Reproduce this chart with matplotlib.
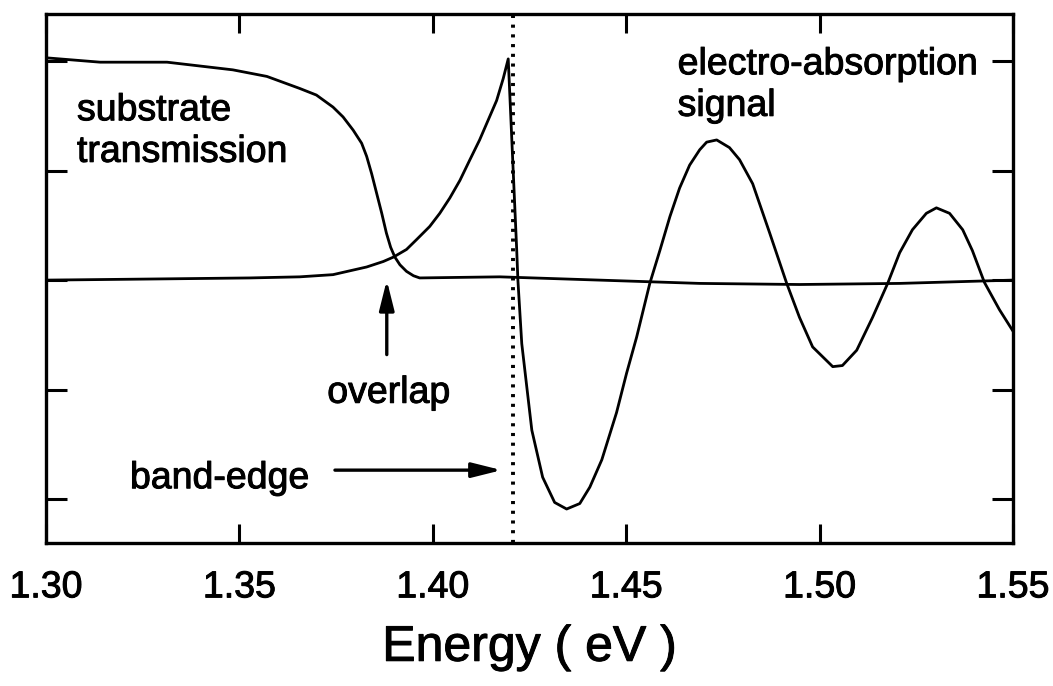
import numpy as np
import matplotlib
matplotlib.use("Agg")
import matplotlib.pyplot as plt
import matplotlib.patheffects as pe

plt.rcParams['font.family'] = ['Liberation Sans', 'DejaVu Sans']

# substrate transmission (arb. units)
sub_E = [1.3000, 1.3140, 1.3313, 1.3483, 1.3571, 1.3656, 1.3699, 1.3742,
         1.3768, 1.3794, 1.3816, 1.3829, 1.3842, 1.3855, 1.3868, 1.3880,
         1.3891, 1.3902, 1.3915, 1.3932, 1.3950, 1.3966, 1.4173, 1.4432,
         1.4690, 1.4948, 1.5207, 1.5499]
sub_T = [2.03, 1.99, 1.99, 1.92, 1.86, 1.75, 1.69, 1.58,
         1.49, 1.37, 1.25, 1.13, 0.97, 0.79, 0.61, 0.43,
         0.30, 0.21, 0.14, 0.08, 0.04, 0.02, 0.03, 0.00,
         -0.03, -0.04, -0.03, 0.00]

# electro-absorption signal (arb. units)
ea_E = [1.3000, 1.3269, 1.3527, 1.3656, 1.3742, 1.3829, 1.3872, 1.3898,
        1.3932, 1.3958, 1.3992, 1.4018, 1.4044, 1.4070, 1.4096, 1.4121,
        1.4143, 1.4165, 1.4182, 1.4195, 1.4217, 1.4220, 1.4230, 1.4256,
        1.4284, 1.4315, 1.4346, 1.4380, 1.4406, 1.4437, 1.4475, 1.4501,
        1.4527, 1.4561, 1.4587, 1.4613, 1.4638, 1.4664, 1.4690, 1.4708,
        1.4734, 1.4767, 1.4793, 1.4827, 1.4871, 1.4915, 1.4948, 1.4982,
        1.5034, 1.5059, 1.5096, 1.5137, 1.5176, 1.5207, 1.5240, 1.5276,
        1.5302, 1.5336, 1.5370, 1.5395, 1.5426, 1.5465, 1.5499]
ea_S = [0.00, 0.01, 0.02, 0.03, 0.05, 0.12, 0.17, 0.21,
        0.28, 0.37, 0.49, 0.61, 0.75, 0.91, 1.10, 1.28,
        1.46, 1.64, 1.84, 2.02, 0.27, 0.00, -0.58, -1.37,
        -1.80, -2.03, -2.09, -2.04, -1.89, -1.64, -1.21, -0.85,
        -0.52, -0.03, 0.27, 0.58, 0.84, 1.05, 1.19, 1.26,
        1.28, 1.21, 1.10, 0.88, 0.43, -0.03, -0.34, -0.61,
        -0.79, -0.78, -0.64, -0.34, -0.03, 0.25, 0.46, 0.61,
        0.66, 0.61, 0.46, 0.27, -0.02, -0.27, -0.46]

band_edge = 1.4207
x_ticks = [1.30, 1.35, 1.40, 1.45, 1.50, 1.55]
y_ticks = [-2, -1, 0, 1, 2]

heavy = [pe.withStroke(linewidth=0.7, foreground='black')]

fig = plt.figure(figsize=(10.53, 6.86), dpi=100)
ax = fig.add_axes([0.0437, 0.2085, 0.9183, 0.7711])

ax.plot(sub_E, sub_T, color='black', lw=2.0)
ax.plot(ea_E, ea_S, color='black', lw=2.0)
ax.axvline(band_edge, color='black', lw=2.8, linestyle=(0, (0.8, 1.7)))

ax.set_xlim(1.30, 1.55)
ax.set_ylim(-2.40, 2.43)
ax.set_xticks(x_ticks)
ax.set_xticklabels([f"{t:.2f}" for t in x_ticks])
ax.set_yticks(y_ticks)
ax.tick_params(axis='both', direction='in', top=True, right=True,
               length=14, width=2.2, labelsize=27, pad=19)
ax.tick_params(axis='y', labelleft=False, length=15)
for s in ax.spines.values():
    s.set_linewidth(2.4)
for lab in ax.get_xticklabels():
    lab.set_path_effects(heavy)

ax.set_xlabel('Energy ( eV )', fontsize=36, labelpad=14, path_effects=heavy)

fs = 27
ax.text(1.3080, 1.08, 'substrate\ntransmission', fontsize=fs,
        ha='left', va='baseline', path_effects=heavy)
ax.text(1.4633, 1.50, 'electro-absorption\nsignal', fontsize=fs,
        ha='left', va='baseline', path_effects=heavy)
ax.text(1.3886, -1.12, 'overlap', fontsize=fs, ha='center', va='baseline',
        path_effects=heavy)
ax.text(1.3217, -1.90, 'band-edge', fontsize=fs, ha='left', va='baseline',
        path_effects=heavy)

arrow = dict(arrowstyle='-|>,head_length=1.8,head_width=0.45',
             color='black', lw=2.4, mutation_scale=10,
             shrinkA=0, shrinkB=0)
ax.annotate('', xy=(1.3881, 0.0), xytext=(1.3881, -0.68), arrowprops=arrow)
ax.annotate('', xy=(1.4178, -1.735), xytext=(1.3747, -1.735), arrowprops=arrow)

fig.savefig('out.png', dpi=100)
